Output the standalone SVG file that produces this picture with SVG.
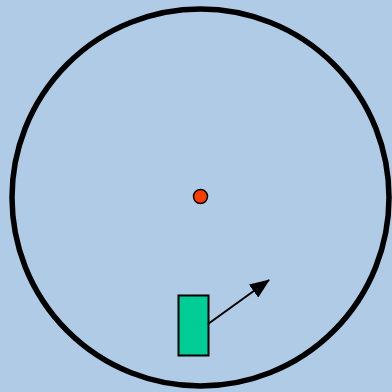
<svg xmlns="http://www.w3.org/2000/svg" width="392" height="392" viewBox="0 0 392 392">
<defs>
<marker id="ah2" markerWidth="20" markerHeight="16" refX="19" refY="8" orient="auto" markerUnits="userSpaceOnUse">
<path d="M0,0 L20,8 L0,16 z" fill="#000"/>
</marker>
</defs>
<rect width="392" height="392" fill="#afcbe5"/>
<g id="ring"><circle cx="200.5" cy="197.5" r="188.5" fill="none" stroke="#000" stroke-width="5.5"/></g>
<g id="center"><circle cx="200.5" cy="196.5" r="7" fill="#ff3c00" stroke="#000" stroke-width="1.5"/></g>
<g id="box"><rect x="178.5" y="295.5" width="30" height="60" fill="#00cc96" stroke="#000" stroke-width="2"/></g>
<g id="connectors"><line x1="208" y1="324" x2="269" y2="280" stroke="#000" stroke-width="2" marker-end="url(#ah2)"/></g>
</svg>
